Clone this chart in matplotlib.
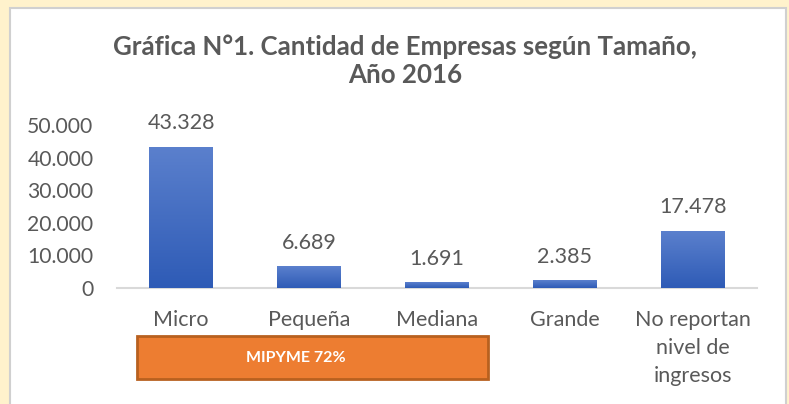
import numpy as np
import matplotlib
matplotlib.use('Agg')
import matplotlib.pyplot as plt
from matplotlib.patches import Rectangle
from matplotlib.transforms import blended_transform_factory


CATEGORIES = ['Micro', 'Pequeña', 'Mediana', 'Grande',
              'No reportan\nnivel de\ningresos']
EMPRESAS = [43328, 6689, 1691, 2385, 17478]
Y_TICKS = [0, 10000, 20000, 30000, 40000, 50000]
TITLE = 'Gráfica N°1. Cantidad de Empresas según Tamaño,\nAño 2016'
GROUP_LABEL = 'MIPYME 72%'

TEXT_COLOR = '#595959'
plt.rcParams['font.family'] = ['Lato', 'DejaVu Sans']


def fmt_miles(v):
    # Spanish thousands separator
    return f'{int(v):,}'.replace(',', '.')


def gradient_bars(ax, bars):
    # Excel-style vertical gradient, light on top, darker at the bottom
    grad = np.linspace(0, 1, 256).reshape(-1, 1)
    cmap = matplotlib.colors.LinearSegmentedColormap.from_list(
        'blue', ['#2E5BB6', '#5B80CD'])
    for b in bars:
        x0, y0 = b.get_x(), b.get_y()
        w, h = b.get_width(), b.get_height()
        im = ax.imshow(grad, cmap=cmap, aspect='auto', origin='lower',
                       extent=[x0, x0 + w, y0, y0 + h], zorder=3)
        im.set_clip_path(b)
        b.set_facecolor('none')


def main():
    fig = plt.figure(figsize=(7.89, 4.04), dpi=100)
    fig.patch.set_facecolor('#FFF2CC')

    # white chart panel with light grey frame
    panel = Rectangle((10 / 789, -0.02), 776 / 789, 1 - 8 / 404 + 0.02,
                      transform=fig.transFigure, facecolor='white',
                      edgecolor='#D0D0D0', linewidth=1.5, zorder=-1)
    fig.patches.append(panel)

    ax = fig.add_axes([117 / 789, 116 / 404, 640 / 789, 163 / 404])
    ax.set_zorder(2)
    ax.patch.set_alpha(0)

    x = np.arange(len(CATEGORIES))
    bars = ax.bar(x, EMPRESAS, width=0.5, zorder=3, linewidth=0)
    gradient_bars(ax, bars)

    for xi, v in zip(x, EMPRESAS):
        ax.annotate(fmt_miles(v), xy=(xi, v), xytext=(0, 17),
                    textcoords='offset points', ha='center', va='center',
                    fontsize=15.5, color=TEXT_COLOR)

    ax.set_xlim(-0.5, len(CATEGORIES) - 0.5)
    ax.set_ylim(0, 50000)
    ax.set_yticks(Y_TICKS)
    ax.set_yticklabels([fmt_miles(t) for t in Y_TICKS])
    ax.set_xticks(x)
    ax.set_xticklabels(CATEGORIES, linespacing=1.5)
    ax.tick_params(axis='both', length=0, colors=TEXT_COLOR)
    ax.tick_params(axis='y', pad=17, labelsize=15.2)
    ax.tick_params(axis='x', pad=16, labelsize=15.5)
    for lbl in ax.get_xticklabels():
        lbl.set_va('top')

    for side in ('top', 'right', 'left'):
        ax.spines[side].set_visible(False)
    ax.spines['bottom'].set_color('#D9D9D9')
    ax.spines['bottom'].set_linewidth(1.5)

    # orange MIPYME box under the first three categories
    trans = blended_transform_factory(ax.transData, fig.transFigure)
    box = Rectangle((-0.345, 25 / 404), 2.743, 43 / 404, transform=trans,
                    facecolor='#ED7D31', edgecolor='#B8601F',
                    linewidth=2, clip_on=False, zorder=4)
    ax.add_patch(box)
    ax.text(0.9, 46.5 / 404, GROUP_LABEL, transform=trans, ha='center',
            va='center', fontsize=11.5, fontweight='bold', color='white',
            zorder=5)

    fig.text(405 / 789, 1 - 61 / 404, TITLE, ha='center', va='center',
             fontsize=18.6, fontweight='bold', color=TEXT_COLOR,
             linespacing=1.2)

    fig.savefig('out.png', dpi=100, facecolor=fig.get_facecolor())
    plt.close(fig)


if __name__ == '__main__':
    main()
